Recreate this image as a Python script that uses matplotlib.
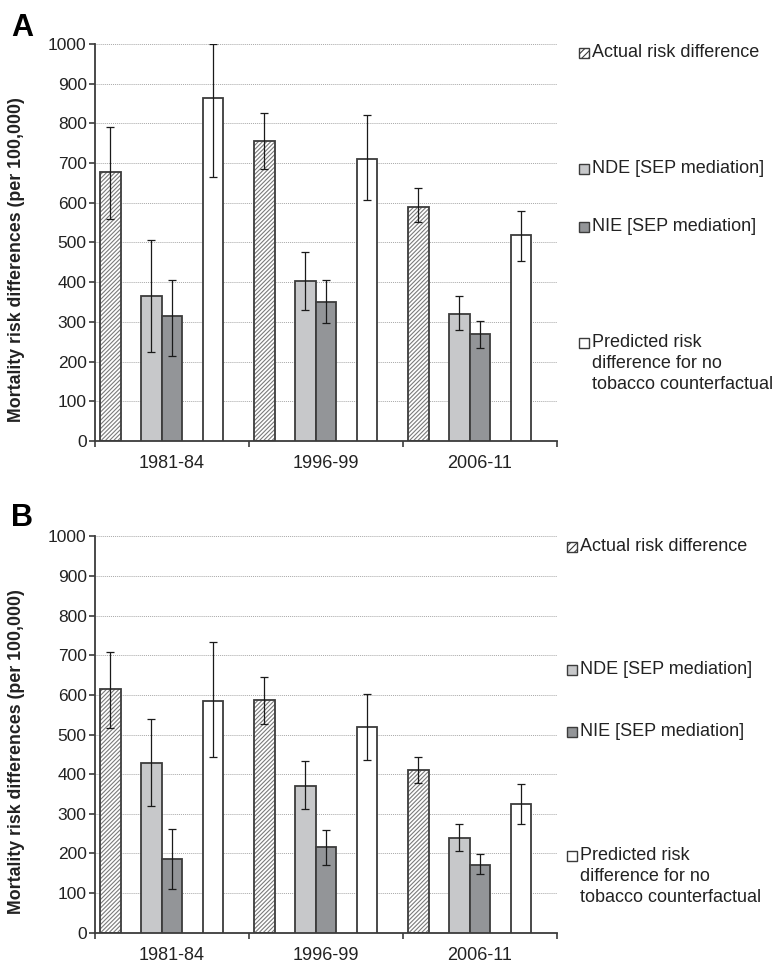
import matplotlib
matplotlib.use("Agg")
import matplotlib.pyplot as plt
import numpy as np
from matplotlib.patches import Rectangle

plt.rcParams['font.family'] = ['Liberation Sans', 'DejaVu Sans']
plt.rcParams['hatch.linewidth'] = 0.8

# ---- data ----
periods = ["1981-84", "1996-99", "2006-11"]
series = ["Actual risk difference", "NDE [SEP mediation]", "NIE [SEP mediation]",
          "Predicted risk\ndifference for no\ntobacco counterfactual"]

# panel A
a_actual = [678, 755, 590]
a_actual_lo = [559, 685, 551]
a_actual_hi = [791, 825, 638]
a_nde = [364, 403, 320]
a_nde_lo = [223, 331, 279]
a_nde_hi = [507, 476, 364]
a_nie = [314, 351, 270]
a_nie_lo = [213, 297, 235]
a_nie_hi = [406, 405, 302]
a_pred = [865, 711, 519]
a_pred_lo = [664, 607, 454]
a_pred_hi = [1000, 821, 580]

# panel B
b_actual = [614, 586, 410]
b_actual_lo = [516, 527, 378]
b_actual_hi = [709, 646, 442]
b_nde = [427, 370, 238]
b_nde_lo = [319, 312, 205]
b_nde_hi = [538, 433, 273]
b_nie = [187, 217, 172]
b_nie_lo = [110, 172, 147]
b_nie_hi = [262, 259, 198]
b_pred = [585, 520, 324]
b_pred_lo = [443, 436, 274]
b_pred_hi = [734, 602, 374]

W, H = 778, 963
EDGE = '#3c3c3c'
TXT = '#222222'
face = ['white', '#c7c8ca', '#939598', 'white']
hatch = ['////////', None, None, None]
slot = 1 / 7.5
offsets = [-3 * slot, -1 * slot, 0, 2 * slot]


def px(x, y):
    return x / W, 1 - y / H


def draw_panel(ax, vals, los, his, letter, lx, ly, leg_x, leg_ys):
    x = np.arange(len(periods))
    for k in range(4):
        v = np.array(vals[k])
        lo = v - np.array(los[k])
        hi = np.array(his[k]) - v
        xs = x + offsets[k]
        if hatch[k]:
            ax.bar(xs, v, slot, color='white', edgecolor='#7a7a7a', hatch=hatch[k],
                   linewidth=0, zorder=2)
            ax.bar(xs, v, slot, fill=False, edgecolor=EDGE, linewidth=1.3, zorder=3)
        else:
            ax.bar(xs, v, slot, color=face[k], edgecolor=EDGE, linewidth=1.3, zorder=3)
        ax.errorbar(xs, v, yerr=[lo, hi], fmt='none', ecolor='#1a1a1a',
                    elinewidth=0.9, capsize=3, capthick=0.9, zorder=4)

    ax.set_xlim(-0.5, 2.5)
    ax.set_ylim(0, 1000)
    ax.set_yticks(np.arange(0, 1001, 100))
    ax.yaxis.grid(True, linestyle=(0, (1, 1)), color='#a8a8a8', linewidth=0.7, zorder=0)
    ax.set_axisbelow(True)
    ax.set_xticks(x)
    ax.set_xticklabels(periods)
    ax.set_xticks([-0.5, 0.5, 1.5, 2.5], minor=True)
    ax.tick_params(axis='x', which='major', length=0, pad=10, labelsize=13, labelcolor=TXT)
    ax.tick_params(axis='x', which='minor', length=4, width=1.2, color=EDGE, direction='out')
    ax.tick_params(axis='y', length=4, width=1.2, color=EDGE, pad=2, labelsize=12.5,
                   labelcolor=TXT)
    for s in ['top', 'right']:
        ax.spines[s].set_visible(False)
    for s in ['left', 'bottom']:
        ax.spines[s].set_color(EDGE)
        ax.spines[s].set_linewidth(1.3)
    ax.set_ylabel("Mortality risk differences (per 100,000)", fontsize=12.8,
                  fontweight='bold', color=TXT)
    ax.yaxis.set_label_coords(-0.151, 0.458)

    fx, fy = px(lx, ly)
    fig.text(fx, fy, letter, fontsize=22, fontweight='bold', ha='left', va='top')

    # legend, placed like the original
    for k in range(4):
        sx, sy = px(leg_x, leg_ys[k] + 5)
        r = Rectangle((sx, sy), 10 / W, 10 / H, transform=fig.transFigure,
                      facecolor=face[k], edgecolor=EDGE, linewidth=1.0,
                      hatch='/////' if hatch[k] else None)
        fig.add_artist(r)
        tx, ty = px(leg_x + 13, leg_ys[k] - 9)
        fig.text(tx, ty, series[k], fontsize=13, color=TXT, ha='left', va='top',
                 linespacing=1.32)


fig = plt.figure(figsize=(W / 100, H / 100), dpi=100)
axA = fig.add_axes([95 / W, 1 - 441 / H, 462 / W, 397 / H])
axB = fig.add_axes([95 / W, 1 - 932.7 / H, 462 / W, 396.4 / H])

draw_panel(axA,
           [a_actual, a_nde, a_nie, a_pred],
           [a_actual_lo, a_nde_lo, a_nie_lo, a_pred_lo],
           [a_actual_hi, a_nde_hi, a_nie_hi, a_pred_hi],
           "A", 11, 13, 579, [53, 169, 227, 343])
draw_panel(axB,
           [b_actual, b_nde, b_nie, b_pred],
           [b_actual_lo, b_nde_lo, b_nie_lo, b_pred_lo],
           [b_actual_hi, b_nde_hi, b_nie_hi, b_pred_hi],
           "B", 11, 503, 567, [547, 670, 732, 856])

fig.savefig("out.png", dpi=100)
